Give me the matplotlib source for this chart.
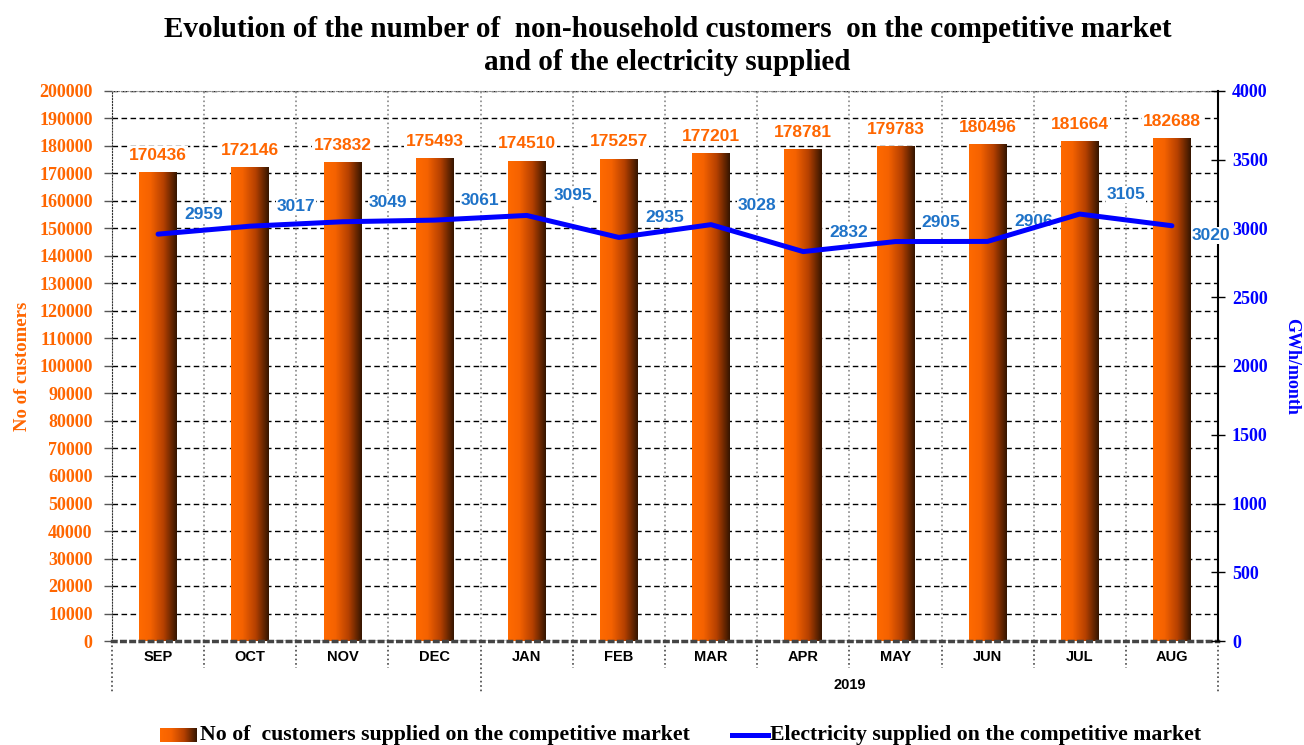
import matplotlib.pyplot as plt
import numpy as np
from matplotlib.colors import LinearSegmentedColormap
from matplotlib.lines import Line2D
import matplotlib.transforms as mtransforms

months = ['SEP', 'OCT', 'NOV', 'DEC', 'JAN', 'FEB', 'MAR', 'APR', 'MAY', 'JUN', 'JUL', 'AUG']
customers = [170436, 172146, 173832, 175493, 174510, 175257, 177201, 178781, 179783, 180496, 181664, 182688]
gwh = [2959, 3017, 3049, 3061, 3095, 2935, 3028, 2832, 2905, 2906, 3105, 3020]
year_label = '2019'
year_start = 4  # JAN

orange = '#ff6600'
lblue = '#1f73c8'
serif = ['Liberation Serif', 'DejaVu Serif']
sans = ['Liberation Sans', 'DejaVu Sans']

grad = LinearSegmentedColormap.from_list('bar', [(0, '#ff6a00'), (0.3, '#f56200'), (0.65, '#b54000'), (1, '#341500')])
gvals = np.linspace(0, 1, 256).reshape(1, -1)
white_box = dict(facecolor='white', edgecolor='none', pad=1.0)

fig = plt.figure(figsize=(13.04, 7.45), dpi=100)
ax = fig.add_axes([112/1304, 1-641/745, (1218-112)/1304, (641-91)/745])
x = np.arange(len(months))
bars = ax.bar(x, customers, width=0.41, color='none', edgecolor='none', zorder=2)
for b, v in zip(bars, customers):
    ax.imshow(gvals, cmap=grad, extent=(b.get_x(), b.get_x()+b.get_width(), 0, b.get_height()),
              aspect='auto', zorder=2)
    ax.annotate(str(v), (b.get_x()+b.get_width()/2, b.get_height()), xytext=(0, 7),
                textcoords='offset points', ha='center', va='bottom', color=orange,
                fontsize=12.5, fontweight='bold', family=sans, zorder=5, bbox=white_box)

ax.set_xlim(-0.5, len(months)-0.5)
ax.set_ylim(0, 200000)
ax.set_yticks(np.arange(0, 200001, 10000))
ax.tick_params(axis='y', colors=orange, labelsize=13, length=6, width=1, direction='out', pad=8)
for t in ax.get_yticklabels():
    t.set_family(serif)
    t.set_fontweight('bold')
ax.tick_params(axis='y', color='#555555')
ax.set_xticks([])
ax.yaxis.grid(True, color='black', linestyle=(0, (4, 2.5)), linewidth=1.0)
for k in range(1, len(months)):
    ax.axvline(k-0.5, color='#888888', linestyle=':', linewidth=1.2, zorder=1)
for side in ['top', 'left', 'bottom']:
    ax.spines[side].set_linestyle(':')
ax.spines['top'].set_color('#888888')
ax.spines['left'].set_color('#333333')
ax.spines['bottom'].set_linewidth(2.5)
ax.spines['bottom'].set_color('#444444')
ax.spines['right'].set_visible(False)
ax.set_axisbelow(True)
ax.set_ylabel('No of customers', color=orange, fontsize=13.5, fontweight='bold', family=serif)
ax.yaxis.set_label_coords(-81/1106, 0.5)

ax2 = ax.twinx()
ax2.plot(x, gwh, color='#0000ff', linewidth=3.6, zorder=4, solid_capstyle='round')
ax2.set_ylim(0, 4000)
ax2.set_yticks(np.arange(0, 4001, 500))
ax2.tick_params(axis='y', colors='#0000ff', labelsize=13, length=10, width=1, direction='inout', pad=5)
ax2.tick_params(axis='y', color='black')
for t in ax2.get_yticklabels():
    t.set_family(serif)
    t.set_fontweight('bold')
for side in ['top', 'left', 'bottom']:
    ax2.spines[side].set_visible(False)
ax2.spines['right'].set_linewidth(1.5)
ax2.set_ylabel('GWh/month', color='#0000ff', fontsize=13, fontweight='bold', family=serif,
               rotation=-90, va='center')
ax2.yaxis.set_label_coords((1292-112)/1106, 0.5)
line_box = dict(facecolor='white', edgecolor='none', pad=0.5)
for i, v in enumerate(gwh):
    off = (33, 14) if i < len(gwh)-1 else (28, -7)
    ax2.annotate(str(v), (i, v), xytext=off, textcoords='offset points', ha='center', va='center',
                 color=lblue, fontsize=12.5, fontweight='bold', family=sans, zorder=3, bbox=line_box)

# category table under the plot
trans = mtransforms.blended_transform_factory(ax.transData, ax.transAxes)
row1 = -27/550
row2 = -51/550
for i, m in enumerate(months):
    ax.text(i, -16/550, m, transform=trans, ha='center', va='center', fontsize=10.5,
            fontweight='bold', family=sans)
for k in range(len(months)+1):
    xb = k-0.5
    bottom = row2 if k in (0, year_start, len(months)) else row1
    ax.plot([xb, xb], [0, bottom], transform=trans, color='#444444', linestyle=':',
            linewidth=1.2, clip_on=False)
ax.text((year_start-0.5 + len(months)-0.5)/2, -44/550, year_label, transform=trans, ha='center',
        va='center', fontsize=10.5, fontweight='bold', family=sans)

fig.text(0.512, 0.978, 'Evolution of the number of  non-household customers  on the competitive market\nand of the electricity supplied',
         ha='center', va='top', fontsize=21, fontweight='bold', family=serif, linespacing=1.25)

# legend
lax = fig.add_axes([160/1304, 1-742/745, 37/1304, 14/745])
lax.imshow(gvals, cmap=grad, aspect='auto')
lax.axis('off')
fig.text(200/1304, 1-735/745, 'No of  customers supplied on the competitive market', ha='left', va='center',
         fontsize=15.7, fontweight='bold', family=serif)
fig.add_artist(Line2D([732/1304, 768/1304], [1-735/745, 1-735/745], color='#0000ff', linewidth=3.6))
fig.text(770/1304, 1-735/745, 'Electricity supplied on the competitive market', ha='left', va='center',
         fontsize=15.7, fontweight='bold', family=serif)

fig.savefig('out.png', dpi=100)
